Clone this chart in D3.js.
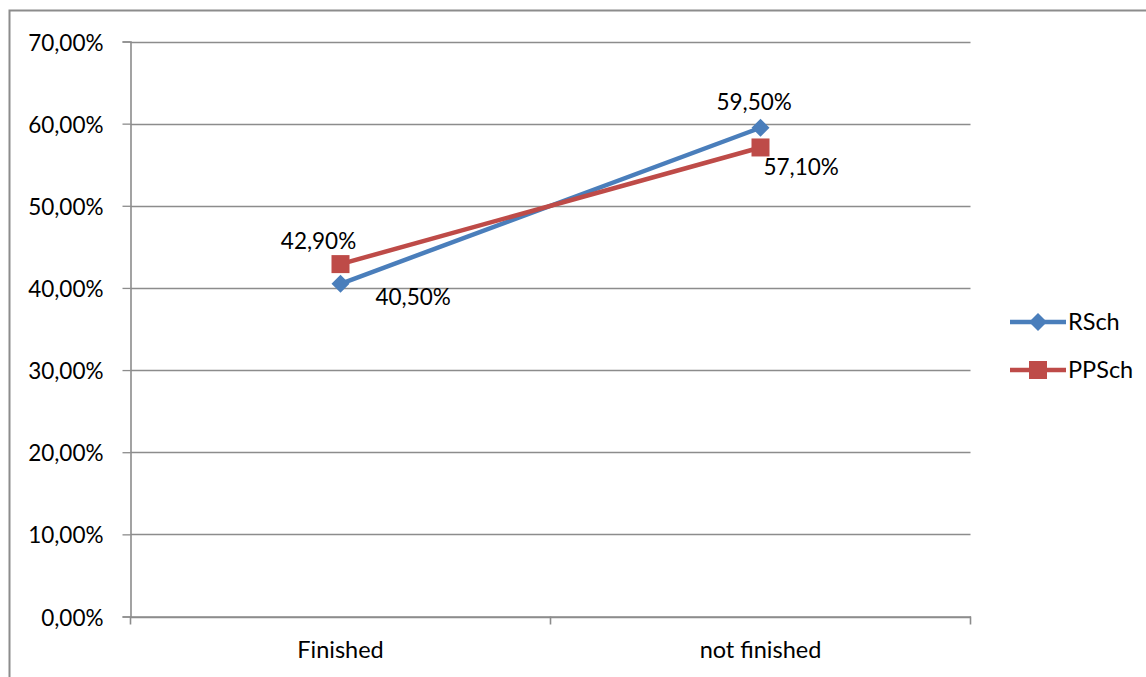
<!DOCTYPE html>
<html>
<head>
<meta charset="utf-8">
<script src="https://cdn.jsdelivr.net/npm/d3@7"></script>
<style>
  html, body { margin: 0; padding: 0; background: #fff; }
  svg { display: block; font-family: Lato, "Open Sans", sans-serif; }
</style>
</head>
<body>
<svg id="chart" width="1146" height="677"></svg>
<script>
// Share of pupils by completion status, two school types
const categories = ["Finished", "not finished"];
const seriesNames = ["RSch", "PPSch"];
const rschValues = [40.5, 59.5];
const ppschValues = [42.9, 57.1];
const yTicks = [0, 10, 20, 30, 40, 50, 60, 70];
const seriesColors = ["#4A7EBB", "#BE4B48"];

const svg = d3.select("#chart");
const W = 1146, H = 677;
const plot = { left: 130.5, right: 970.5, top: 41.5, bottom: 616.5 };
const FS = 22.5;

const fmt = v => d3.format(".2f")(v).replace(".", ",") + "%";

// outer chart frame (runs off the right and bottom edges)
svg.append("rect")
  .attr("x", 9.5).attr("y", 10.5)
  .attr("width", W + 20).attr("height", H + 20)
  .attr("fill", "none").attr("stroke", "#8c8c8c").attr("stroke-width", 2);

const x = d3.scaleBand().domain(categories).range([plot.left, plot.right]);
const y = d3.scaleLinear().domain([0, 70]).range([plot.bottom, plot.top]);

// horizontal gridlines
svg.append("g").selectAll("line").data(yTicks).join("line")
  .attr("x1", plot.left).attr("x2", plot.right)
  .attr("y1", d => Math.round(y(d)) + 0.5).attr("y2", d => Math.round(y(d)) + 0.5)
  .attr("stroke", "#8c8c8c").attr("stroke-width", 1.3);

// y axis
const yAxis = svg.append("g")
  .attr("transform", `translate(${plot.left},0)`)
  .call(d3.axisLeft(y).tickValues(yTicks).tickFormat(fmt).tickSize(8).tickPadding(19));
yAxis.select(".domain").attr("stroke", "#8c8c8c").attr("stroke-width", 1.6);
yAxis.selectAll(".tick line").attr("stroke", "#8c8c8c").attr("stroke-width", 1.3);
yAxis.selectAll(".tick text").attr("font-size", FS).attr("fill", "#000")
  .attr("font-family", "Lato, sans-serif").attr("dy", "0.38em");

// x axis
const xAxis = svg.append("g")
  .attr("transform", `translate(0,${plot.bottom})`)
  .call(d3.axisBottom(x).tickSize(0).tickPadding(25));
xAxis.select(".domain").attr("stroke", "#8c8c8c").attr("stroke-width", 1.6);
xAxis.selectAll(".tick text").attr("font-size", 23.5).attr("fill", "#000")
  .attr("font-family", "Lato, sans-serif");
// category boundary ticks
const bounds = [plot.left, plot.left + x.bandwidth(), plot.right];
svg.append("g").selectAll("line").data(bounds).join("line")
  .attr("x1", d => d).attr("x2", d => d)
  .attr("y1", plot.bottom).attr("y2", plot.bottom + 8)
  .attr("stroke", "#8c8c8c").attr("stroke-width", 1.6);

const cx = c => x(c) + x.bandwidth() / 2;
const series = [
  { name: seriesNames[0], values: rschValues, color: seriesColors[0], marker: "diamond" },
  { name: seriesNames[1], values: ppschValues, color: seriesColors[1], marker: "square" }
];

const line = d3.line().x((d, i) => cx(categories[i])).y(d => y(d));

function drawMarker(g, type, color) {
  if (type === "diamond") {
    g.append("path").attr("d", "M0,-9L9,0L0,9L-9,0Z").attr("fill", color);
  } else {
    g.append("rect").attr("x", -9).attr("y", -9).attr("width", 18).attr("height", 18).attr("fill", color);
  }
}

series.forEach(s => {
  svg.append("path").datum(s.values)
    .attr("d", line).attr("fill", "none")
    .attr("stroke", s.color).attr("stroke-width", 4.5).attr("stroke-linejoin", "round");
});
series.forEach(s => {
  s.values.forEach((v, i) => {
    const g = svg.append("g").attr("transform", `translate(${cx(categories[i])},${y(v)})`);
    drawMarker(g, s.marker, s.color);
  });
});

// data labels
const labelOffsets = {
  "RSch": [[35, 21, "start"], [-44, -18, "start"]],
  "PPSch": [[-22, -15, "middle"], [3, 28, "start"]]
};
series.forEach(s => {
  s.values.forEach((v, i) => {
    const [dx, dy, anchor] = labelOffsets[s.name][i];
    svg.append("text")
      .attr("x", cx(categories[i]) + dx).attr("y", y(v) + dy)
      .attr("text-anchor", anchor).attr("dominant-baseline", "alphabetic")
      .attr("font-size", FS).attr("fill", "#000")
      .text(fmt(v));
  });
});

// legend
const legend = svg.append("g");
series.forEach((s, i) => {
  const ly = 322 + i * 48;
  const g = legend.append("g").attr("transform", `translate(0,${ly})`);
  g.append("line").attr("x1", 1010).attr("x2", 1066).attr("y1", 0).attr("y2", 0)
    .attr("stroke", s.color).attr("stroke-width", 4.5);
  const m = g.append("g").attr("transform", "translate(1038,0)");
  drawMarker(m, s.marker, s.color);
  g.append("text").attr("x", 1068).attr("y", 8).attr("font-size", 23.5).attr("fill", "#000").text(s.name);
});
</script>
</body>
</html>
